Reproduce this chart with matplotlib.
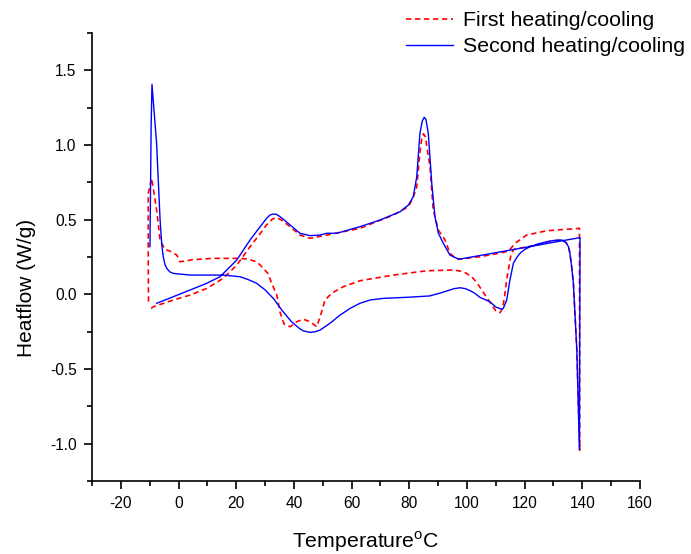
import matplotlib
matplotlib.use("Agg")
import matplotlib.pyplot as plt
from matplotlib.ticker import MultipleLocator, FixedLocator

plt.rcParams['font.family'] = ['Liberation Sans', 'DejaVu Sans']
plt.rcParams['mathtext.fontset'] = 'custom'
plt.rcParams['mathtext.rm'] = 'Liberation Sans'
plt.rcParams['axes.unicode_minus'] = False

# First heating/cooling run (heating, jump at 139 C, then cooling back)
first_T = [-9.5, -8.7, -1.8, 4.0, 9.8, 15.5, 20.2, 24.8, 28.8, 30.5, 32.3, 33.8, 35.5,
           38.7, 42.1, 45.6, 51.4, 62.9, 74.5, 79.7, 81.4, 82.6, 83.7, 84.3, 84.9,
           85.6, 86.4, 87.2, 88.3, 90.1, 92.4, 94.1, 96.5, 104.5, 110.0, 113.5, 114.9,
           116.7, 120.7, 127.7, 139.0,
           139.1, 138.1, 136.9, 136.3, 135.7, 135.2, 134.4, 132.9, 127.7, 125.0,
           118.0, 116.2, 115.3, 114.5, 113.8, 113.0, 112.4, 111.5, 110.0, 108.6,
           106.3, 104.0, 101.7, 98.8, 95.3, 86.1, 74.5, 62.9, 57.1, 53.1, 50.8,
           49.1, 47.9, 45.6, 43.3, 41.0, 38.7, 36.6, 35.2, 34.0, 32.6, 31.0, 28.3,
           27.1, 24.0, 21.3, 12.1, 5.0, 0.5, -0.6, -3.0, -4.7, -6.4, -7.6, -9.3,
           -10.5, -10.5, -10.4]
first_HF = [-0.094, -0.083, -0.038, -0.005, 0.040, 0.107, 0.196, 0.319, 0.419, 0.465,
            0.500, 0.515, 0.500, 0.453, 0.397, 0.375, 0.397, 0.442, 0.531, 0.587,
            0.650, 0.720, 0.950, 1.040, 1.075, 1.055, 0.950, 0.855, 0.565, 0.430,
            0.364, 0.275, 0.234, 0.252, 0.271, 0.285, 0.300, 0.342, 0.397, 0.426,
            0.442,
            -1.043, -0.373, 0.074, 0.185, 0.275, 0.319, 0.346, 0.364, 0.352, 0.333,
            0.308, 0.300, 0.270, 0.180, 0.100, -0.020, -0.090, -0.123, -0.110, -0.072,
            -0.005, 0.062, 0.118, 0.152, 0.163, 0.158, 0.129, 0.091, 0.051, 0.007,
            -0.038, -0.150, -0.217, -0.183, -0.167, -0.183, -0.217, -0.200, -0.120,
            0.000, 0.060, 0.140, 0.196, 0.218, 0.236, 0.241, 0.241, 0.232, 0.218,
            0.263, 0.290, 0.300, 0.364, 0.565, 0.777, 0.676, 0.230, -0.070]

# Second heating/cooling run
second_T = [-7.6, -1.8, 4.0, 9.8, 14.4, 20.2, 24.8, 28.3, 30.6, 31.7, 32.9, 34.0,
            35.2, 36.5, 38.7, 42.1, 45.6, 49.1, 51.4, 54.9, 62.9, 69.9, 76.8, 79.7,
            81.4, 82.6, 83.7, 84.5, 85.2, 85.8, 86.6, 87.8, 88.9, 90.1, 91.8, 94.1,
            96.5, 97.6, 139.2,
            139.0, 138.1, 136.9, 136.3, 135.7, 135.2, 134.4, 132.9, 130.5, 127.7,
            124.5, 121.9, 120.0, 118.4, 117.2, 116.1, 114.9, 113.8, 112.6, 112.1,
            110.0, 108.0, 104.5, 102.5, 101.1, 99.5, 97.6, 95.5, 94.1, 90.5, 87.0,
            79.1, 71.0, 66.4, 62.9, 59.5, 56.0, 52.5, 49.1, 47.5, 45.6, 43.3, 42.0,
            39.0, 36.0, 33.0, 30.0, 27.0, 24.0, 21.3, 15.5, 9.8, 4.0, -1.8, -3.0,
            -4.1, -4.7, -5.3, -5.8, -6.4, -7.6, -9.2, -9.5, -9.9]
second_HF = [-0.060, -0.016, 0.029, 0.074, 0.118, 0.230, 0.364, 0.453, 0.510, 0.531,
             0.538, 0.535, 0.520, 0.500, 0.464, 0.409, 0.393, 0.397, 0.409, 0.409,
             0.453, 0.498, 0.553, 0.598, 0.654, 0.788, 1.078, 1.160, 1.186, 1.170,
             1.078, 0.743, 0.520, 0.409, 0.342, 0.263, 0.241, 0.236, 0.380,
             -1.043, -0.373, 0.074, 0.185, 0.275, 0.319, 0.346, 0.364, 0.362, 0.352,
             0.337, 0.319, 0.300, 0.275, 0.245, 0.208, 0.096, -0.038, -0.094, -0.100,
             -0.085, -0.050, -0.020, 0.010, 0.024, 0.038, 0.044, 0.038, 0.029, 0.007,
             -0.011, -0.020, -0.027, -0.038, -0.060, -0.094, -0.139, -0.194, -0.239,
             -0.250, -0.255, -0.245, -0.230, -0.180, -0.110, -0.030, 0.030, 0.075,
             0.100, 0.118, 0.129, 0.129, 0.129, 0.140, 0.150, 0.174, 0.200, 0.252,
             0.330, 0.500, 1.010, 1.406, 1.120, 0.319]

x_major = [-20, 0, 20, 40, 60, 80, 100, 120, 140, 160]
x_minor = [-30, -10, 10, 30, 50, 70, 90, 110, 130, 150]
y_major = [-1.0, -0.5, 0.0, 0.5, 1.0, 1.5]
y_labels = ['-1.0', '-0.5', '0.0', '0.5', '1.0', '1.5']

fig = plt.figure(figsize=(6.91, 5.54), dpi=100)
ax = fig.add_axes([92 / 691, 1 - 481 / 554, 548 / 691, 448 / 554])

ax.plot(first_T, first_HF, color='#FF0000', lw=1.2, linestyle=(0, (3.2, 2.2)),
        label='First heating/cooling')
ax.plot(second_T, second_HF, color='#0000FF', lw=1.0, label='Second heating/cooling')

ax.set_xlim(-30, 160)
ax.set_ylim(-1.25, 1.75)
ax.xaxis.set_major_locator(FixedLocator(x_major))
ax.xaxis.set_minor_locator(FixedLocator(x_minor))
ax.set_xticklabels([str(v) for v in x_major])
ax.yaxis.set_major_locator(FixedLocator(y_major))
ax.yaxis.set_minor_locator(MultipleLocator(0.25))
ax.set_yticklabels(y_labels)

for side in ('top', 'right'):
    ax.spines[side].set_visible(False)
for side in ('left', 'bottom'):
    ax.spines[side].set_linewidth(1.2)

ax.tick_params(which='major', direction='out', length=6, width=1.2, labelsize=11.2,
               pad=5)
ax.tick_params(which='minor', direction='out', length=3.5, width=1.2)

ax.set_xlabel(r'Temperature$^\mathrm{o}$C', fontsize=15.3, labelpad=13)
ax.set_ylabel('Heatflow (W/g)', fontsize=15, labelpad=12)
ax.yaxis.set_label_coords(-0.103, 0.43)

fig.legend(loc='upper left', bbox_to_anchor=(406 / 691, 1 - 11 / 554), frameon=False,
           fontsize=15.4, handlelength=2.2, handletextpad=0.45, labelspacing=0.33,
           borderpad=0, borderaxespad=0)

fig.savefig('out.png', dpi=100)
